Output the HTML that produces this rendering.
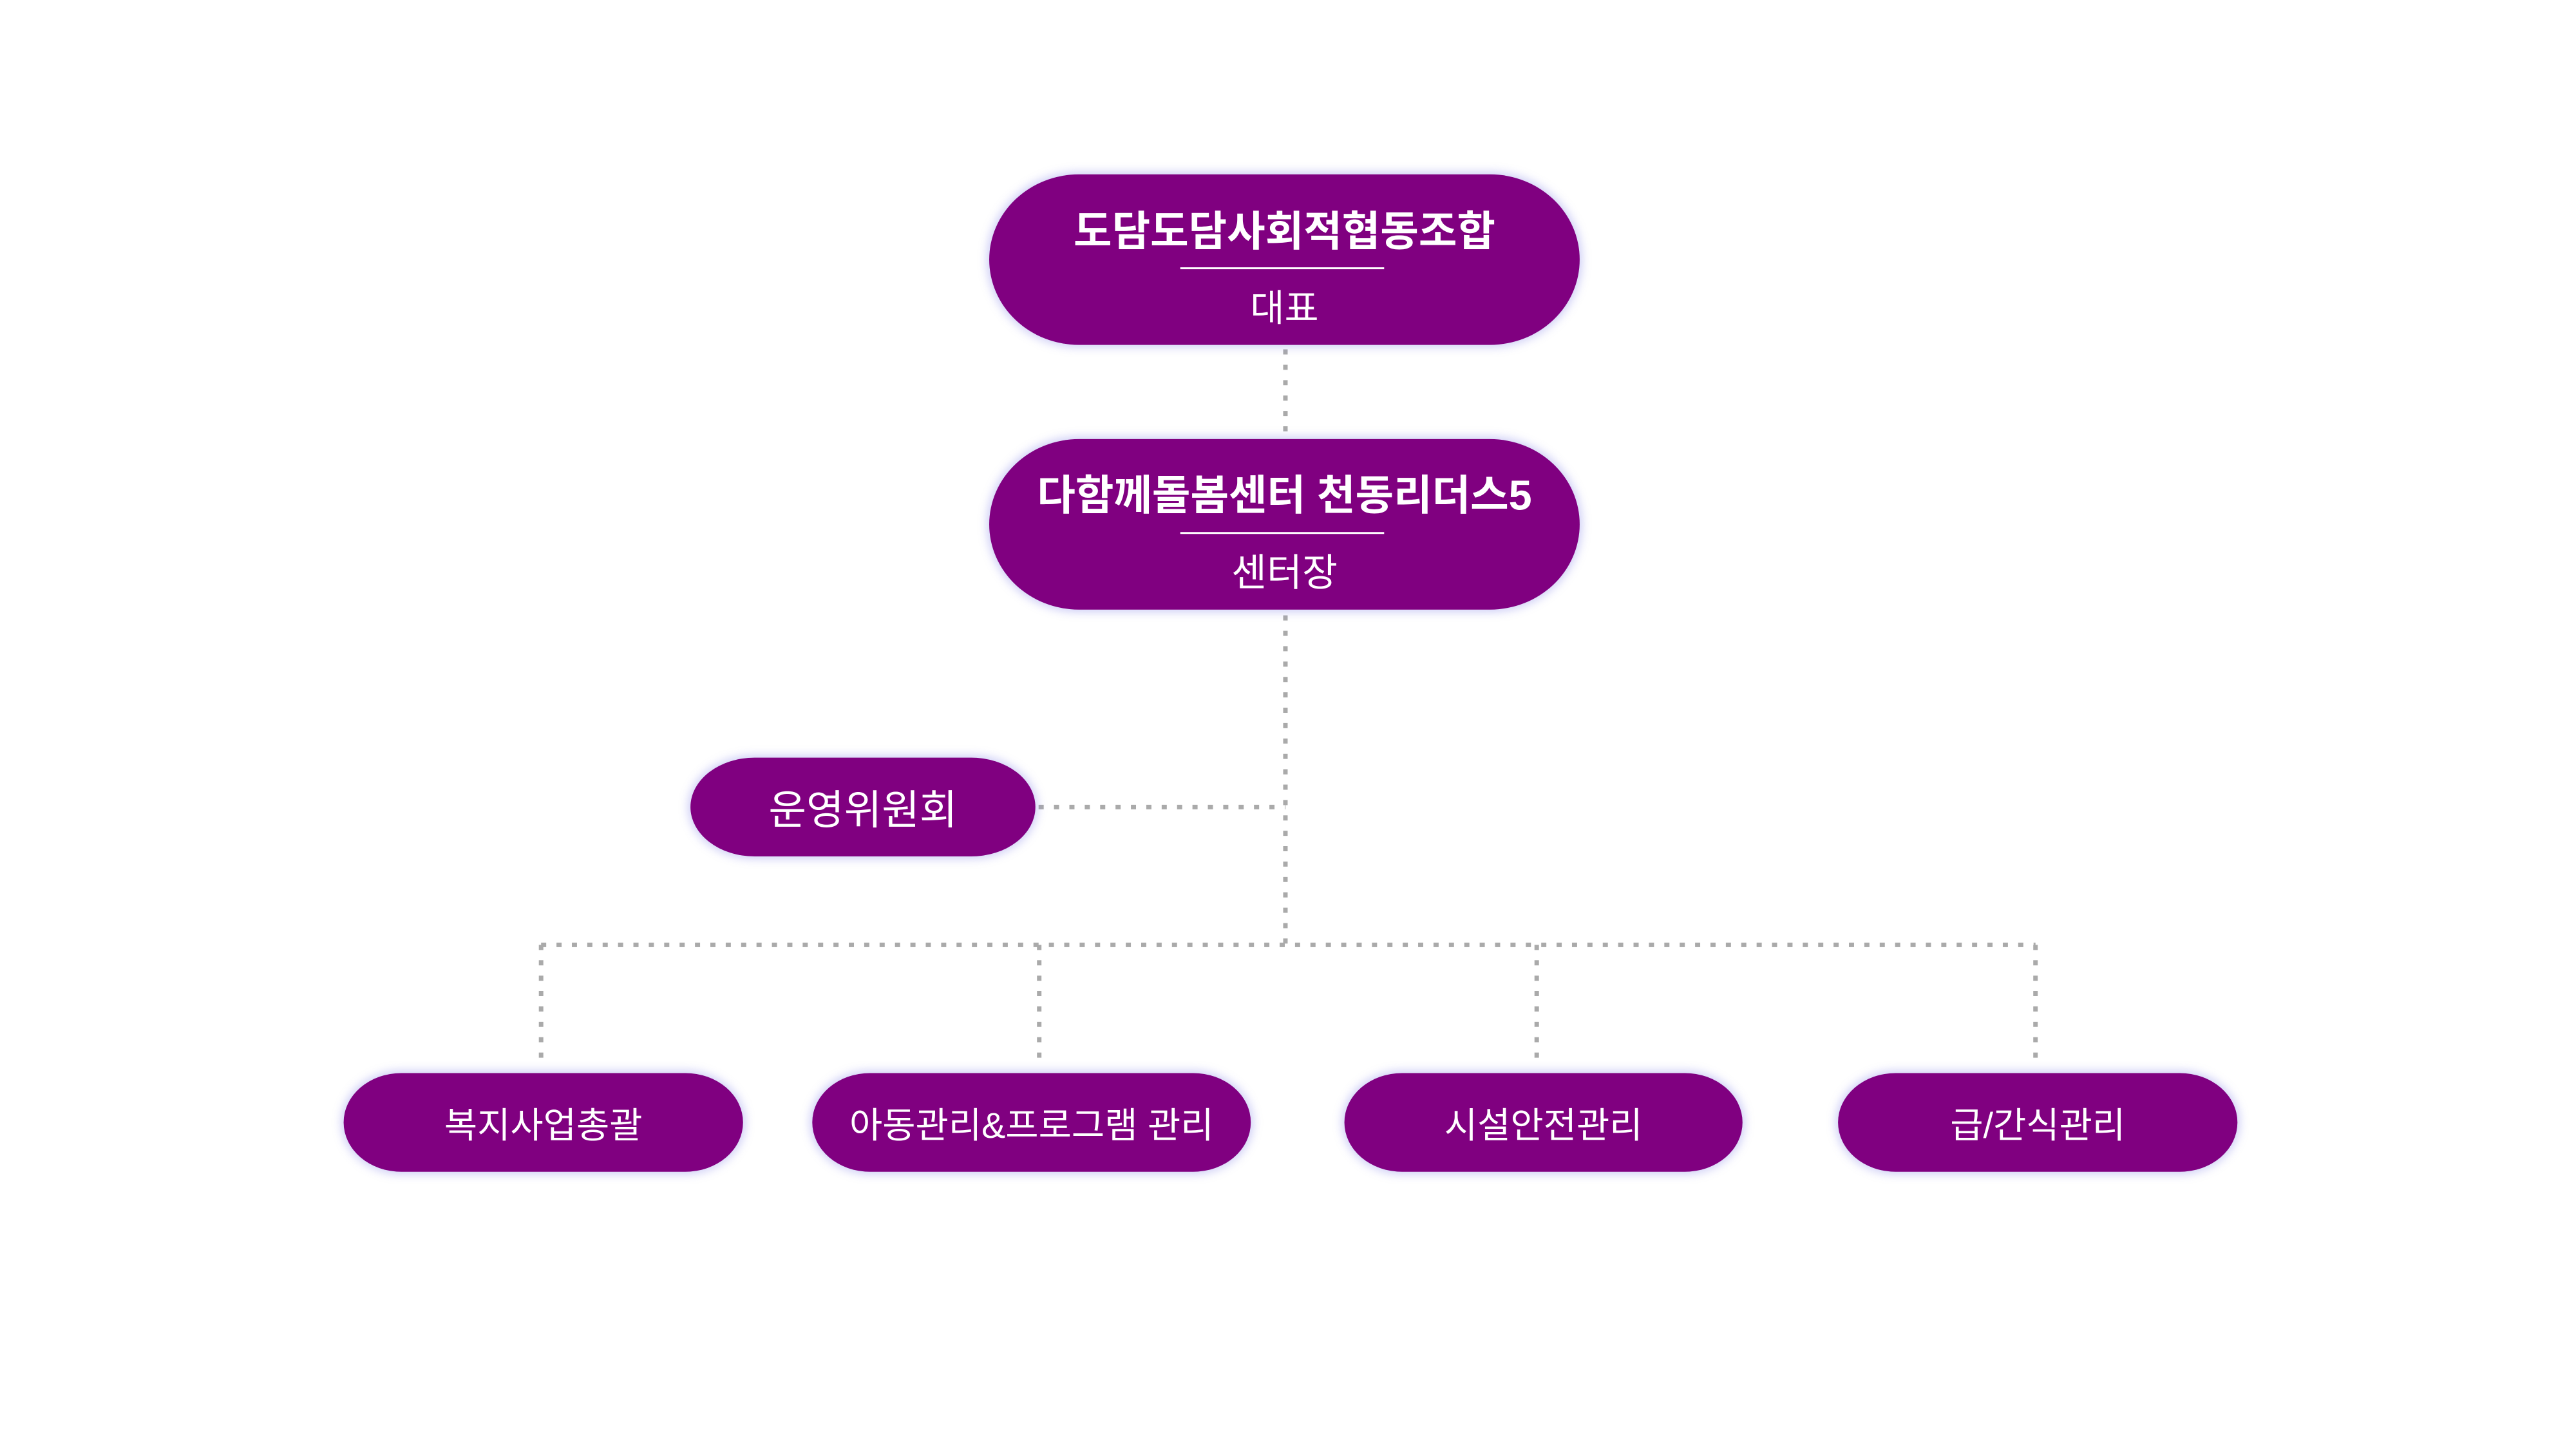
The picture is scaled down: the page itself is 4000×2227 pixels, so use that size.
<!DOCTYPE html>
<html><head><meta charset="utf-8"><style>
body{margin:0;width:4000px;height:2227px;background:#fff;position:relative;overflow:hidden;font-family:"Liberation Sans","Noto Sans CJK KR",sans-serif;}
#w{position:absolute;left:0;top:0;width:4000px;height:2227px;transform:scale(0.9955);transform-origin:0 0;}
.b{position:absolute;background:#800080;color:#fff;box-shadow:0 0 14px 4px rgba(120,120,230,.35);display:flex;align-items:center;justify-content:center;text-align:center;border-radius:140px/50%;}
.s{border-radius:90px/50%;font-size:56px;}
.t{position:absolute;left:0;right:0;text-align:center;color:#fff;}
.ln{position:absolute;height:3px;background:#fff;}
svg{position:absolute;left:0;top:0}
</style></head><body><div id="w">
<svg width="4000" height="2227"><g stroke="#aaa" stroke-width="7" stroke-dasharray="8 16" fill="none">
<line x1="2005" y1="545" x2="2005" y2="680"/>
<line x1="2005" y1="960" x2="2005" y2="1474"/>
<line x1="1620" y1="1259" x2="2005" y2="1259"/>
<line x1="844" y1="1474" x2="3175" y2="1474"/>
<line x1="844" y1="1474" x2="844" y2="1665"/>
<line x1="1621" y1="1474" x2="1621" y2="1665"/>
<line x1="2397" y1="1474" x2="2397" y2="1665"/>
<line x1="3175" y1="1474" x2="3175" y2="1665"/>
</g></svg>
<div class="b" style="left:1543px;top:272px;width:921px;height:266px;"></div>
<div class="t" style="left:1543px;width:921px;top:308px;font-size:65px;font-weight:bold;">도담도담사회적협동조합</div>
<div class="ln" style="left:1841px;width:318px;top:417px;"></div>
<div class="t" style="left:1543px;width:921px;top:434px;font-size:58px;">대표</div>
<div class="b" style="left:1543px;top:685px;width:921px;height:266px;"></div>
<div class="t" style="left:1543px;width:921px;top:720px;font-size:65px;font-weight:bold;">다함께돌봄센터 천동리더스5</div>
<div class="ln" style="left:1841px;width:318px;top:830px;"></div>
<div class="t" style="left:1543px;width:921px;top:845px;font-size:60px;">센터장</div>
<div class="b" style="left:1077px;top:1182px;width:538px;height:154px;font-size:64px;border-radius:100px/50%;">운영위원회</div>
<div class="b s" style="left:536px;top:1674px;width:623px;height:154px;">복지사업총괄</div>
<div class="b s" style="left:1267px;top:1674px;width:684px;height:154px;">아동관리&amp;프로그램 관리</div>
<div class="b s" style="left:2097px;top:1674px;width:621px;height:154px;">시설안전관리</div>
<div class="b s" style="left:2867px;top:1674px;width:623px;height:154px;">급/간식관리</div>
</div></body></html>
